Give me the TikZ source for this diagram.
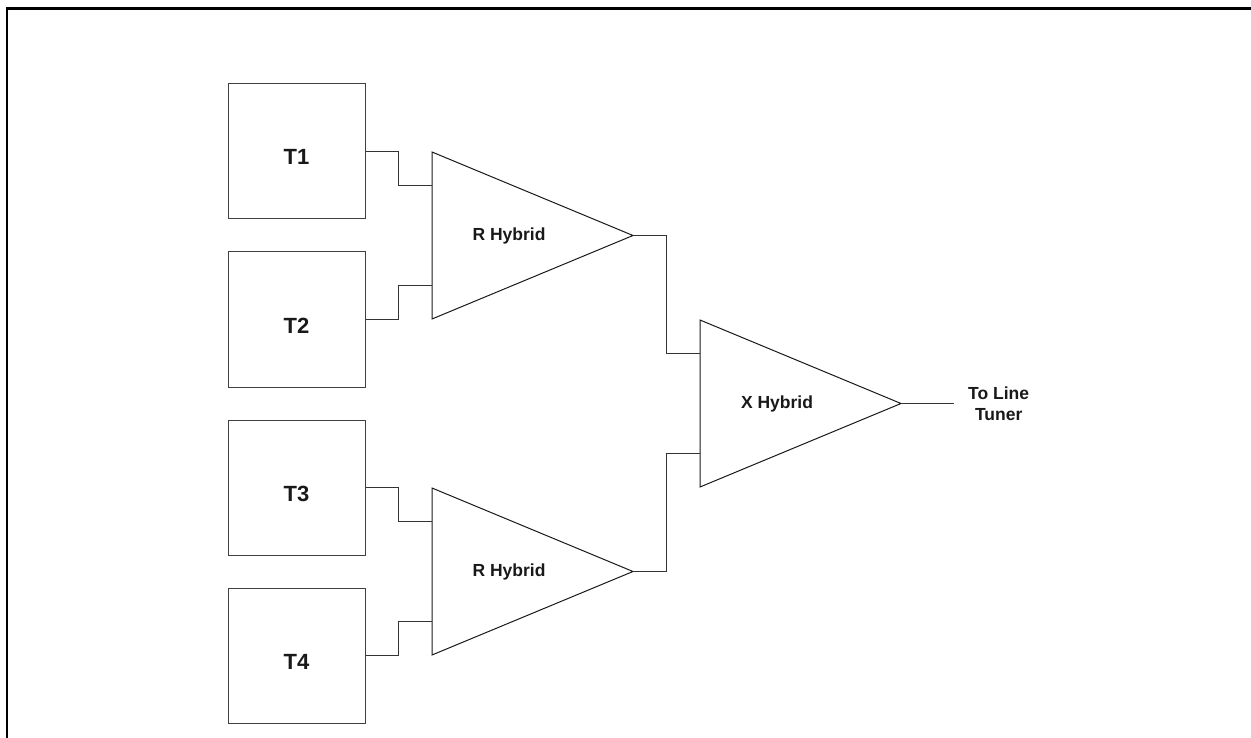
\documentclass[tikz,border=0pt]{standalone}
\usepackage{fontspec}
\setmainfont{Liberation Sans}
\usetikzlibrary{positioning}

\begin{document}
\begin{tikzpicture}[x=1pt,y=-1pt,
    tbox/.style={draw=black!75,line width=1pt,minimum width=137pt,minimum height=135pt,inner sep=0pt,text height=27pt,text depth=0pt,text=black!90,font=\fontsize{22}{24}\selectfont\bfseries},
    hyb/.style={draw=black!90,line width=1pt,line join=miter},
    lbl/.style={inner sep=0pt,align=center,text=black!90,font=\fontsize{17.5}{20.5}\selectfont\bfseries},
    w/.style={draw=black!80,line width=1pt}]
    \useasboundingbox (0,0) rectangle (1251,738);
    \draw[line width=2.5pt] (7,738) -- (7,8.3) -- (1251,8.3);
    % transmitters
    \node[tbox] (t1) at (296.5,151.5) {T1};
    \node[tbox,below=32pt of t1] (t2) {T2};
    \node[tbox,below=32pt of t2] (t3) {T3};
    \node[tbox,below=32pt of t3] (t4) {T4};
    % hybrids
    \foreach \n/\x/\y/\t in {rha/432/152/R,rhb/432/488/R,xh/700/320/X}{
      \begin{scope}[shift={(\x,\y)}]
        \draw[hyb] (0,0) -- (201,83.5) -- (0,167) -- cycle;
        \coordinate (\n-in1) at (0,33.4);
        \coordinate (\n-in2) at (0,133.6);
        \coordinate (\n-out) at (201,83.5);
        \node[lbl] (\n) at (77,83.5) {\t\ Hybrid};
      \end{scope}
    }
    \draw[w] (t1.east) -- ++(33,0) |- (rha-in1);
    \draw[w] (t2.east) -- ++(33,0) |- (rha-in2);
    \draw[w] (t3.east) -- ++(33,0) |- (rhb-in1);
    \draw[w] (t4.east) -- ++(33,0) |- (rhb-in2);
    \draw[w] (rha-out) -- ++(33.3,0) |- (xh-in1);
    \draw[w] (rhb-out) -- ++(33.3,0) |- (xh-in2);
    % output
    \coordinate[right=53pt of xh-out] (lineend);
    \node[lbl,right=14pt of lineend] (tuner) {To Line\\Tuner};
    \draw[w] (xh-out) -- (lineend);
\end{tikzpicture}
\end{document}
